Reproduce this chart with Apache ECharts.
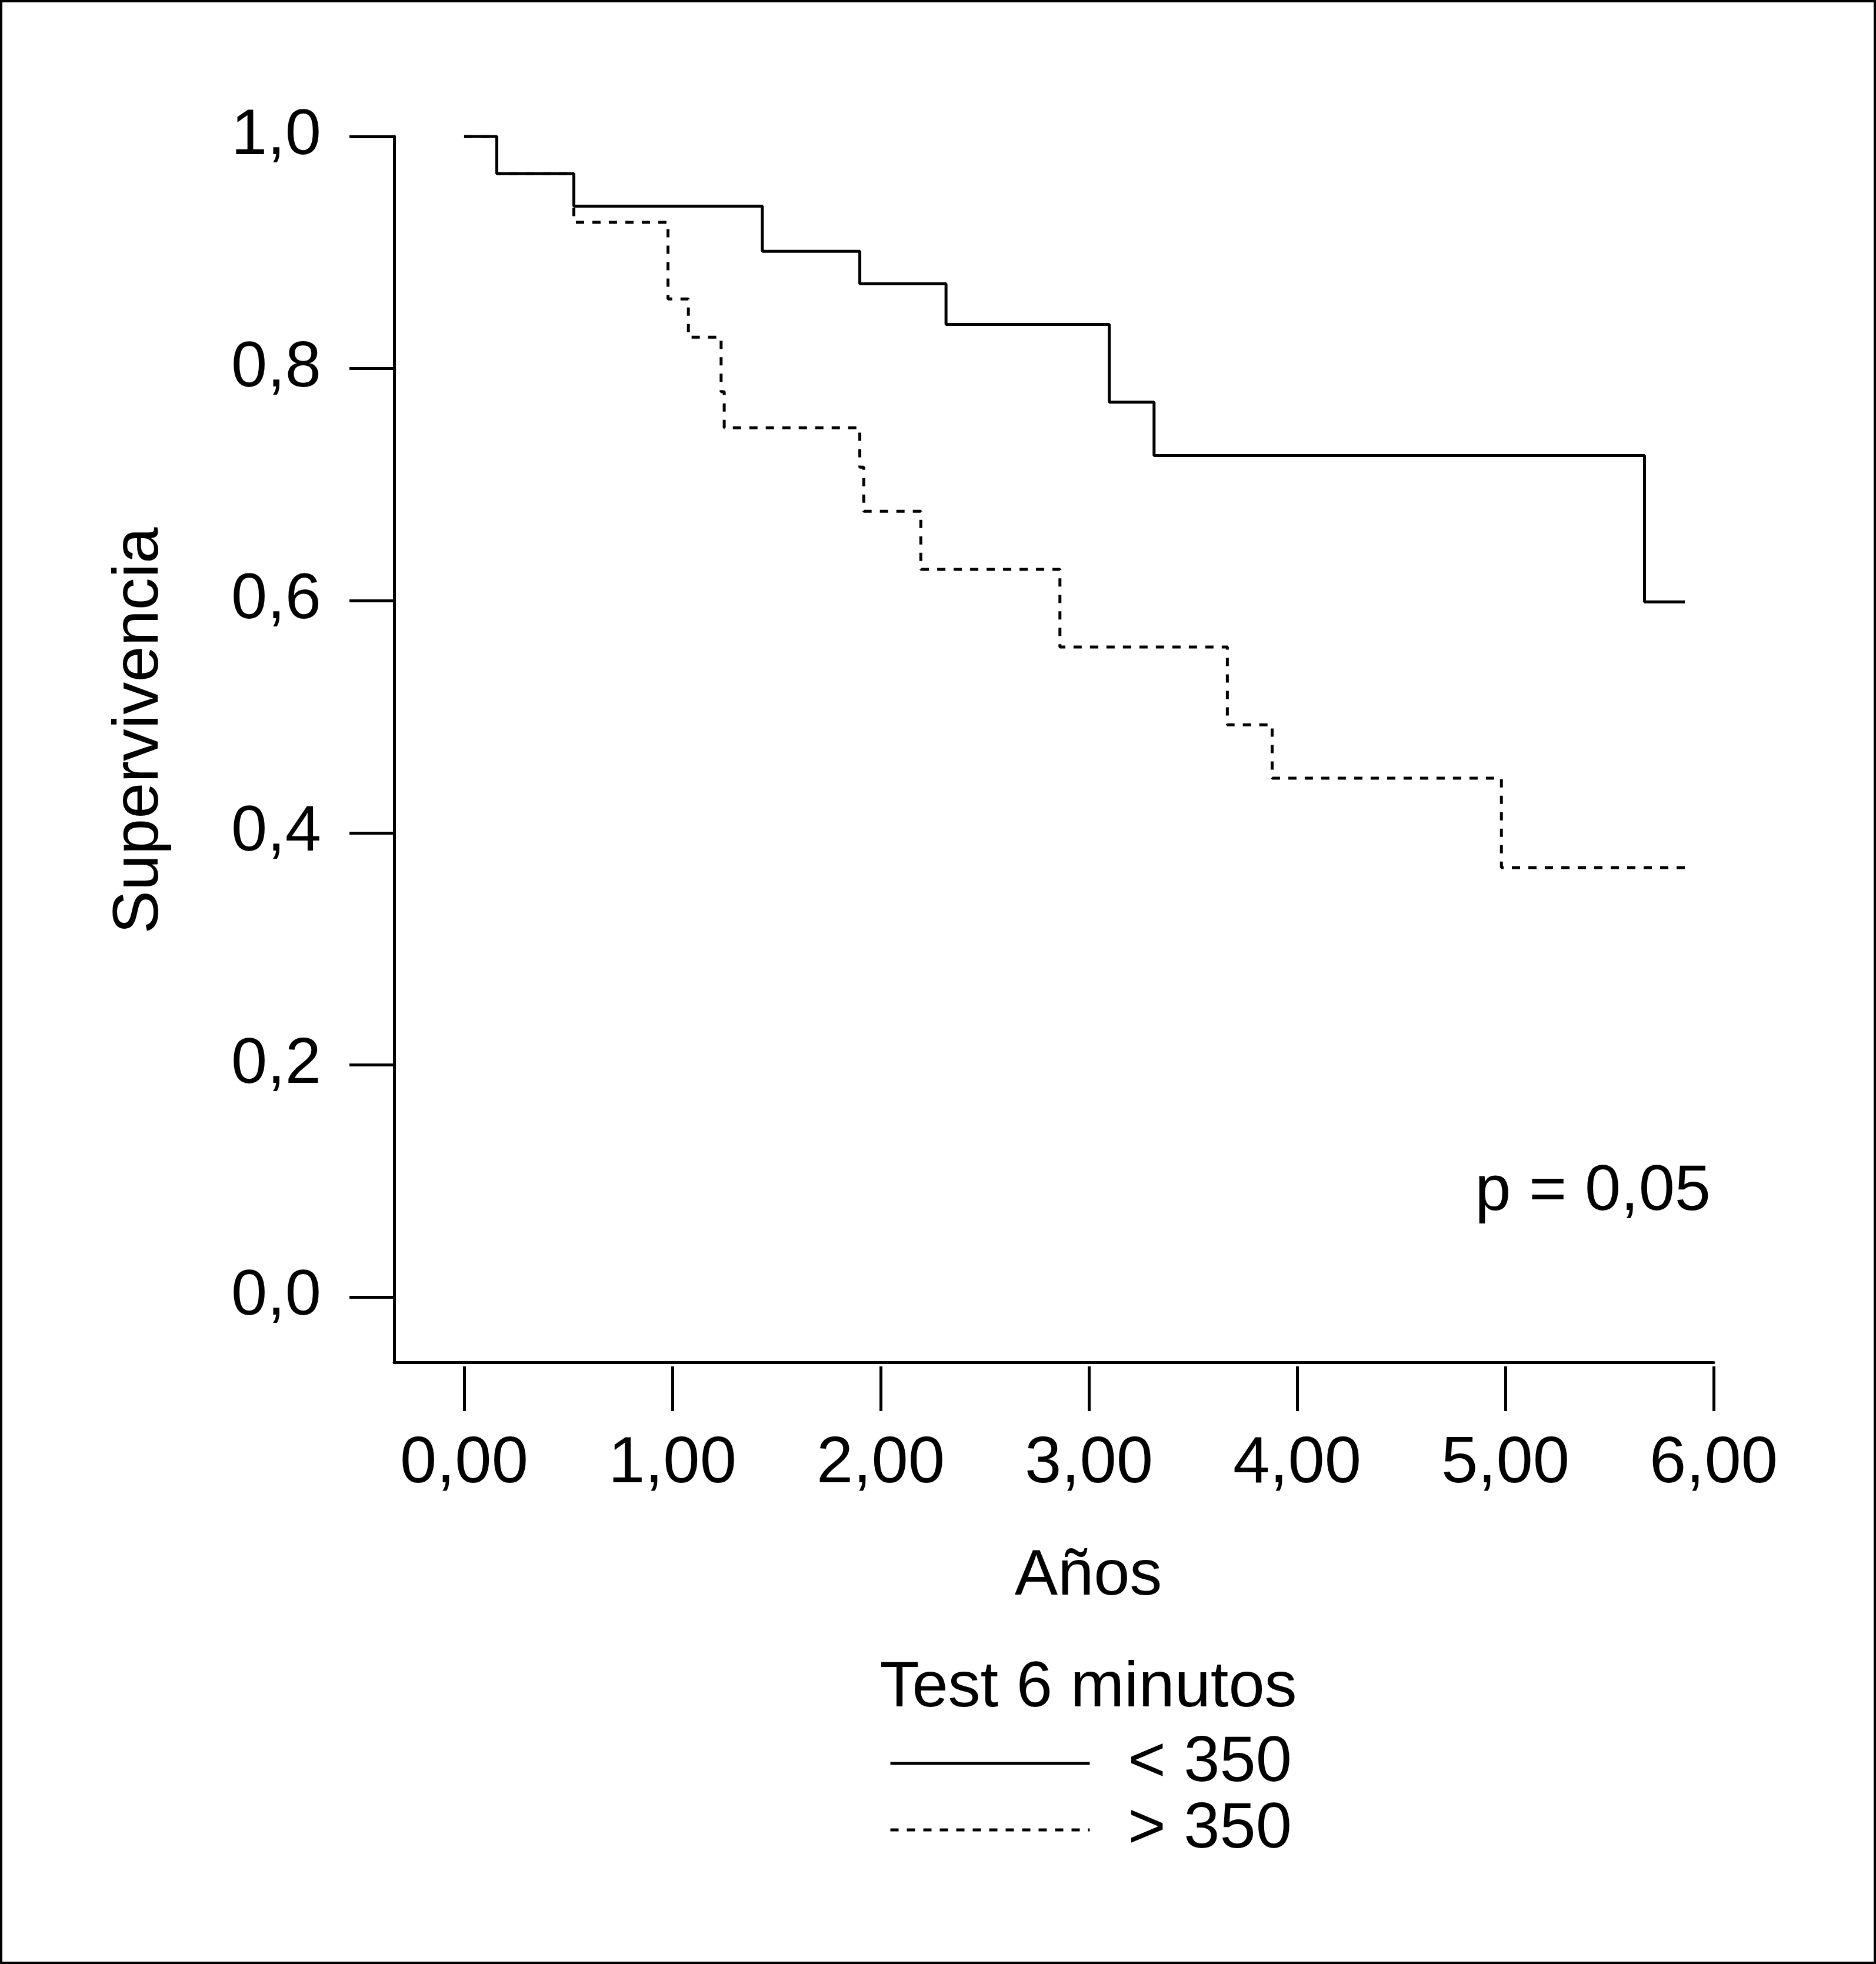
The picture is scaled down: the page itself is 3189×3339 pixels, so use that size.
<!DOCTYPE html>
<html>
<head>
<meta charset="utf-8">
<style>
  html, body { margin: 0; padding: 0; background: #ffffff; }
  #chart { width: 3189px; height: 3339px; }
</style>
<script src="https://cdn.jsdelivr.net/npm/echarts@6/dist/echarts.min.js"></script>
</head>
<body>
<div id="chart"></div>
<script>
// ---- Data ----
const seriesNames = ['< 350', '> 350'];
// Kaplan-Meier steps: [time in years, survival after that time]
const below350 = [
  [0, 1.0], [0.157, 0.968], [0.527, 0.940], [1.432, 0.901], [1.900, 0.873],
  [2.314, 0.838], [3.098, 0.771], [3.313, 0.725], [5.668, 0.599], [5.862, 0.599]
];
const above350 = [
  [0, 1.0], [0.157, 0.968], [0.527, 0.926], [0.979, 0.860], [1.077, 0.827],
  [1.234, 0.780], [1.249, 0.749], [1.900, 0.715], [1.919, 0.677], [2.193, 0.627],
  [2.861, 0.560], [3.665, 0.493], [3.880, 0.447], [4.981, 0.370], [5.884, 0.370]
];
const xTicks = [0, 1, 2, 3, 4, 5, 6];
const yTicks = [0, 0.2, 0.4, 0.6, 0.8, 1.0];
const pText = 'p = 0,05';
const xTitle = 'Años';
const yTitle = 'Supervivencia';
const legendTitle = 'Test 6 minutos';

const FONT = '"Liberation Sans", Arial, Helvetica, sans-serif';

const chart = echarts.init(document.getElementById('chart'), null, { renderer: 'canvas' });

const option = {
  animation: false,
  backgroundColor: '#ffffff',
  grid: { left: 670, top: 232, right: 276, bottom: 1023, containLabel: false },
  xAxis: [
    {
      type: 'value', min: -0.336, max: 6,
      axisLine: { show: true, onZero: false, lineStyle: { color: '#000', width: 5 } },
      axisTick: { show: false }, axisLabel: { show: false }, splitLine: { show: false }
    },
    {
      type: 'value', min: -0.336, max: 6, position: 'bottom', offset: 7,
      axisLine: { show: false, onZero: false },
      axisTick: { show: true, customValues: xTicks, length: 76, lineStyle: { color: '#000', width: 5 } },
      axisLabel: {
        show: true, customValues: xTicks, margin: 110,
        color: '#000', fontFamily: FONT, fontSize: 112,
        formatter: v => v.toFixed(2).replace('.', ',')
      },
      splitLine: { show: false }
    }
  ],
  yAxis: {
    type: 'value', min: -0.0563, max: 1.0,
    axisLine: { show: true, onZero: false, lineStyle: { color: '#000', width: 5 } },
    axisTick: { show: true, customValues: yTicks, length: 76, lineStyle: { color: '#000', width: 5 } },
    axisLabel: {
      show: true, customValues: yTicks, margin: 124,
      color: '#000', fontFamily: FONT, fontSize: 110,
      formatter: v => v.toFixed(1).replace('.', ',')
    },
    splitLine: { show: false }
  },
  legend: {
    orient: 'vertical', left: 1511, top: 2943, padding: 0,
    itemWidth: 339, itemHeight: 14, itemGap: 3,
    data: seriesNames,
    itemStyle: { opacity: 0, borderWidth: 0 },
    lineStyle: { width: 5, color: '#000' },
    textStyle: { color: '#000', fontFamily: FONT, fontSize: 110, lineHeight: 100, padding: [0, 0, 0, 60] }
  },
  series: [
    {
      name: seriesNames[1], type: 'line', step: 'end', xAxisIndex: 0,
      data: above350, symbol: 'none', z: 2,
      lineStyle: { color: '#000', width: 5, type: [14, 14], cap: 'butt' },
      itemStyle: { color: '#000' }
    },
    {
      name: seriesNames[0], type: 'line', step: 'end', xAxisIndex: 0,
      data: below350, symbol: 'none', z: 3,
      lineStyle: { color: '#000', width: 5, type: 'solid' },
      itemStyle: { color: '#000' }
    }
  ],
  graphic: [
    {
      type: 'rect', silent: true,
      shape: { x: 2, y: 2, width: 3185, height: 3335 },
      style: { fill: 'none', stroke: '#000', lineWidth: 4 }
    },
    {
      type: 'text', x: 238, y: 1242, rotation: Math.PI / 2,
      style: { text: yTitle, fill: '#000', font: '110px ' + FONT, align: 'center', verticalAlign: 'middle' }
    },
    {
      type: 'text', x: 1850, y: 2681,
      style: { text: xTitle, fill: '#000', font: '110px ' + FONT, align: 'center', verticalAlign: 'middle' }
    },
    {
      type: 'text', x: 2908, y: 2027,
      style: { text: pText, fill: '#000', font: '110px ' + FONT, align: 'right', verticalAlign: 'middle' }
    },
    {
      type: 'text', x: 1850, y: 2871,
      style: { text: legendTitle, fill: '#000', font: '110px ' + FONT, align: 'center', verticalAlign: 'middle' }
    }
  ]
};

chart.setOption(option);
</script>
</body>
</html>
